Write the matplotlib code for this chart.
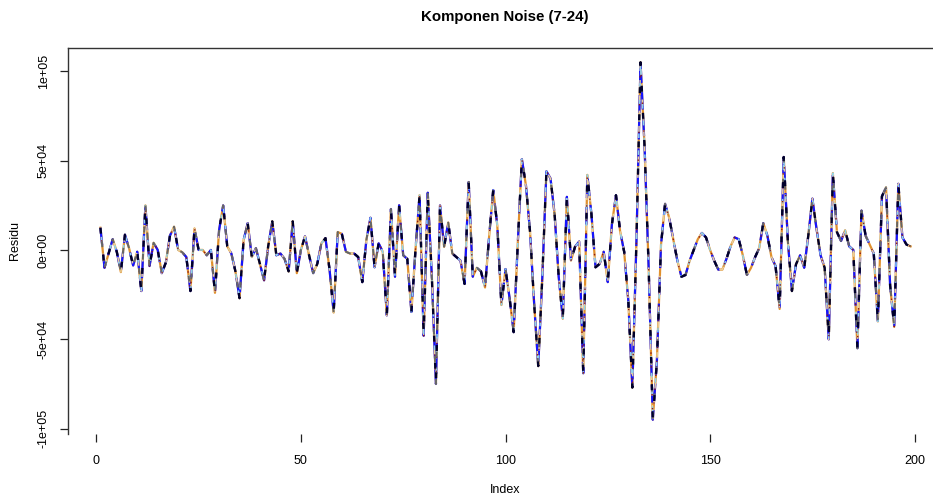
import numpy as np
import matplotlib
matplotlib.use("Agg")
import matplotlib.pyplot as plt

plt.rcParams['font.family'] = ['Liberation Sans', 'DejaVu Sans']

# Noise component (values in thousands), index 1..N
noise_k = [
    12.4, -10, -2, 6, -1, -12.4, 8.5, 1, -8.7, -1,
    -23, 24.9, -9, 4, 0, -13, -7, 8, 13, 0,
    -1.3, -4, -23, 12, 0, 0, -3, 0, -24, 11,
    24.9, 2, -2, -12, -27, 5.6, 15, -4, 1, -8,
    -17, 2, 16, -3, -2, -5, -12, 16, -13, 0,
    7.6, -3, -13, -7.8, 3.7, 6.6, -11, -35, 10, 9,
    -1, -2, -2, -4, -18, 5.6, 18, -9.7, 3.7, -1,
    -36.6, 22.9, -15, 25, -3, -5, -34.7, 0, 30.6, -48,
    32, -15, -75, 24.9, 1.8, 15.3, -2, -4, -6, -19,
    38, -15, -10, -12, -21, 7.6, 33.5, 13.5, -30.8, -10.7,
    -27, -46, 3.7, 50.8, 36, 10, -30, -65, -15, 44,
    40, 20, -15, -38.5, 29.7, -5.9, 1.8, 4.7, -69, 42,
    20, -9.7, -7.8, -1, -18, 14.3, 30.6, 10.6, -1, -28,
    -77, 5, 105, 57, -11, -95, -62, 2.8, 25.8, 18,
    6, -6, -15, -14, -6, 0, 6, 9.5, 7, 0,
    -6, -11, -11, -5, 2, 7, 6, -3, -14, -10,
    -4, 1, 15, 8, -4, -9, -33, 52, 5, -23,
    -8, -3, -10, 8, 28.7, 12, -3, -10, -50, 43,
    10, 5, 11, 2, 0, -55, 22, 8, 3, -2,
    -40, 30, 35, -20, -43, 37, 7, 3, 2,
]
noise = np.array(noise_k) * 1000.0
index = np.arange(1, len(noise) + 1)

x_ticks = [0, 50, 100, 150, 200]
y_ticks = [-1e5, -5e4, 0, 5e4, 1e5]
y_tick_labels = ["-1e+05", "-5e+04", "0e+00", "5e+04", "1e+05"]

title = "Komponen Noise (7-24)"
x_label = "Index"
y_label = "Residu"

W, H = 933, 500
fig = plt.figure(figsize=(W / 100, H / 100), dpi=100)
ax = fig.add_axes([68 / W, 1 - 434 / H, 875 / W, 386 / H])

# overlaid series styles (same component drawn by several models)
styles = [
    dict(color="#E0902E", lw=1.6, ls="-"),
    dict(color="#1414FF", lw=1.6, ls=(0, (8, 4))),
    dict(color="#E8CF9A", lw=1.1, ls=(2, (4, 6))),
    dict(color="#8FD3EA", lw=1.1, ls=(5, (3, 8))),
    dict(color="#8B1A1A", lw=1.0, ls=(1, (1, 9))),
    dict(color="#666666", lw=1.4, ls=(7, (3, 11))),
    dict(color="#00002A", lw=1.7, ls=(0, (2.5, 9))),
]
for st in styles:
    ax.plot(index, noise, **st)

n = len(noise)
xr = n - 1
ax.set_xlim(1 - 0.04 * xr, n + 0.04 * xr)
ymin, ymax = noise.min(), noise.max()
yr = ymax - ymin
ax.set_ylim(ymin - 0.04 * yr, ymax + 0.04 * yr)

ax.set_xticks(x_ticks)
ax.set_xticklabels([str(t) for t in x_ticks], fontsize=9)
ax.set_yticks(y_ticks)
ax.set_yticklabels(y_tick_labels, fontsize=9, rotation=90, va="center")
ax.tick_params(axis="both", direction="out", length=6, width=0.9, color="#222222")
ax.tick_params(axis="x", pad=9)
ax.tick_params(axis="y", pad=7)

for side in ["left", "top", "right"]:
    ax.spines[side].set_color("#333333")
    ax.spines[side].set_linewidth(1.0)
ax.spines["bottom"].set_visible(False)

fig.text(505 / W, 1 - 17 / H, title, ha="center", va="center", fontsize=10.8, fontweight="bold")
fig.text(505 / W, 1 - 490 / H, x_label, ha="center", va="center", fontsize=9)
fig.text(15 / W, 1 - 240 / H, y_label, ha="center", va="center", fontsize=9, rotation=90)

fig.savefig("out.png", dpi=100)
